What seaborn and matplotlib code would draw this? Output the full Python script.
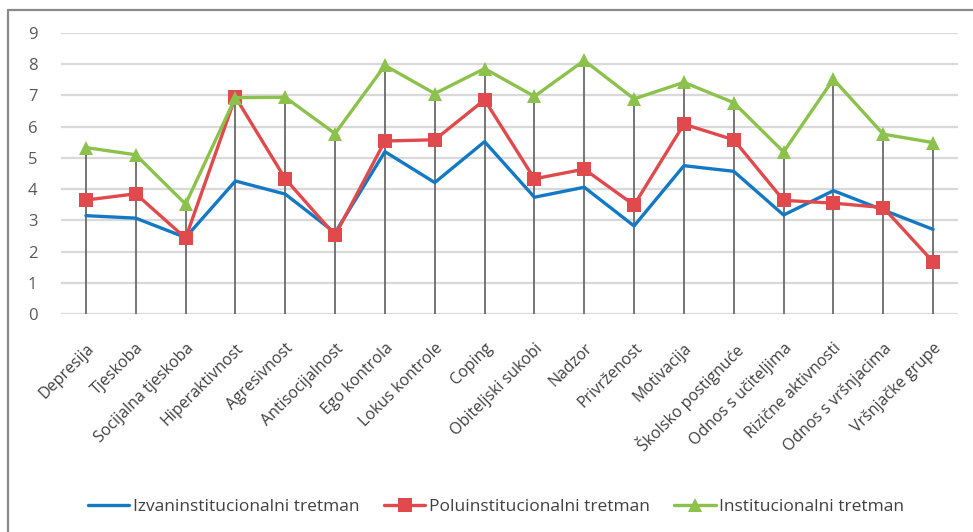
import numpy as np
import pandas as pd
import seaborn as sns
import matplotlib.pyplot as plt
from matplotlib.lines import Line2D

categories = ["Depresija", "Tjeskoba", "Socijalna tjeskoba", "Hiperaktivnost",
              "Agresivnost", "Antisocijalnost", "Ego kontrola", "Lokus kontrole",
              "Coping", "Obiteljski sukobi", "Nadzor", "Privrženost", "Motivacija",
              "Školsko postignuće", "Odnos s učiteljima", "Rizične aktivnosti",
              "Odnos s vršnjacima", "Vršnjačke grupe"]

izvan = [3.15, 3.07, 2.45, 4.26, 3.84, 2.6, 5.2, 4.21, 5.52, 3.74, 4.06, 2.82,
         4.75, 4.57, 3.17, 3.95, 3.33, 2.71]
polu = [3.65, 3.85, 2.43, 6.95, 4.33, 2.52, 5.54, 5.58, 6.86, 4.33, 4.64, 3.49,
        6.08, 5.58, 3.64, 3.55, 3.41, 1.67]
inst = [5.33, 5.1, 3.52, 6.93, 6.94, 5.78, 7.96, 7.06, 7.86, 6.97, 8.12, 6.89,
        7.42, 6.77, 5.19, 7.52, 5.76, 5.49]

series_names = ["Izvaninstitucionalni tretman", "Poluinstitucionalni tretman",
                "Institucionalni tretman"]
colors = ["#1479c4", "#e04a4c", "#8cc24c"]
markers = [None, "s", "^"]

pos = np.arange(len(categories))
df = pd.DataFrame({
    "pos": np.tile(pos, 3),
    "value": izvan + polu + inst,
    "serija": np.repeat(series_names, len(categories)),
})

sns.set_style("white")
plt.rcParams['font.family'] = ['Open Sans', 'DejaVu Sans']

fig = plt.figure(figsize=(9.73, 5.32), dpi=100)
ax = fig.add_axes([61 / 973, 1 - 314 / 532, (958 - 61) / 973, (314 - 33) / 532])

# horizontal gridlines
for yv in range(0, 10):
    ax.axhline(yv, color="#d9d9d9", lw=1.6, zorder=0)

# drop lines from the highest point to the axis
tops = np.max(np.vstack([izvan, polu, inst]), axis=0)
ax.vlines(pos, 0, tops, color="#6a6a6a", lw=1.3, zorder=1)

for name, col, mk in zip(series_names, colors, markers):
    sub = df[df["serija"] == name]
    sns.lineplot(data=sub, x="pos", y="value", color=col, marker=mk, lw=2.4,
                 markersize=10, markeredgewidth=0, sort=False, ax=ax, zorder=3)

ax.set_xlim(-0.5, len(categories) - 0.5)
ax.set_ylim(0, 9)
ax.set_yticks(range(0, 10))
ax.tick_params(axis="y", labelsize=12, labelcolor="#595959", pad=17, length=0)
ax.set_xticks(pos)
ax.set_xticklabels(categories, rotation=45, ha="right", rotation_mode="anchor",
                   fontsize=11.5, color="#404040")
ax.tick_params(axis="x", length=0, pad=19)
ax.set_xlabel("")
ax.set_ylabel("")
for s in ax.spines.values():
    s.set_visible(False)

handles = [
    Line2D([], [], color=colors[0], lw=2.4),
    Line2D([], [], color=colors[1], lw=2.4, marker="s", markersize=10, markeredgewidth=0),
    Line2D([], [], color=colors[2], lw=2.4, marker="^", markersize=10, markeredgewidth=0),
]
fig.legend(handles, series_names, loc="center", bbox_to_anchor=(496 / 973, 1 - 507 / 532),
           ncol=3, frameon=False, fontsize=12.5, handlelength=2.4,
           columnspacing=1.4, handletextpad=0.2, labelcolor="#404040")

# outer chart border (cropped at right and bottom)
fig.add_artist(Line2D([8 / 973, 8 / 973], [0, 1 - 10 / 532], color="#8a8a8a", lw=1.6,
                      transform=fig.transFigure))
fig.add_artist(Line2D([8 / 973, 1], [1 - 10 / 532, 1 - 10 / 532], color="#8a8a8a", lw=1.6,
                      transform=fig.transFigure))

fig.savefig("out.png", dpi=100)
